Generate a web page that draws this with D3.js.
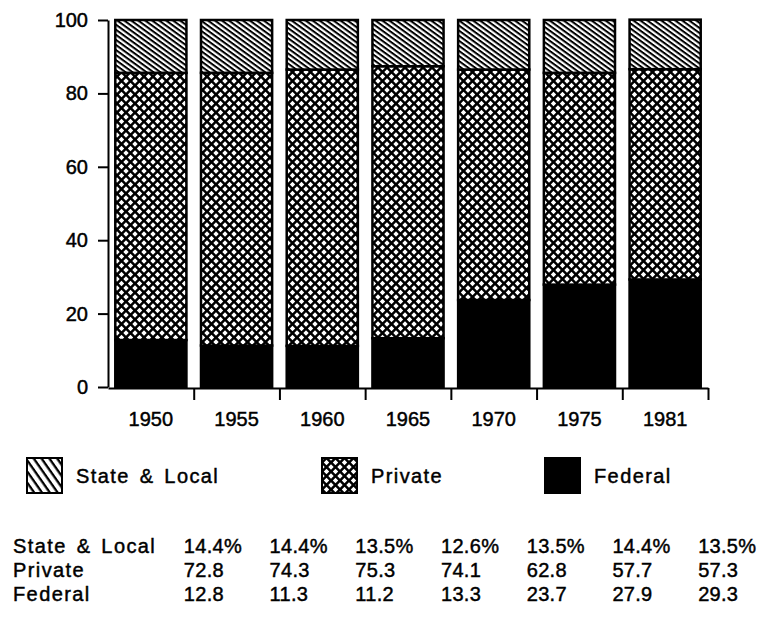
<!DOCTYPE html>
<html>
<head>
<meta charset="utf-8">
<script src="https://cdn.jsdelivr.net/npm/d3@7"></script>
<style>
  body { margin: 0; background: #fff; }
  svg { display: block; font-family: "Liberation Sans", Arial, Helvetica, sans-serif; }
  svg text { stroke: #000; stroke-width: 0.45px; fill: #000; }
</style>
</head>
<body>
<div id="chart-container"></div>
<script>
// values (percent of total)
const years = ["1950", "1955", "1960", "1965", "1970", "1975", "1981"];
const stateLocal = [14.4, 14.4, 13.5, 12.6, 13.5, 14.4, 13.5];
const privateShare = [72.8, 74.3, 75.3, 74.1, 62.8, 57.7, 57.3];
const federal = [12.8, 11.3, 11.2, 13.3, 23.7, 27.9, 29.3];
const yTicks = [0, 20, 40, 60, 80, 100];
const seriesNames = ["State & Local", "Private", "Federal"];

const W = 762, H = 620;

const svg = d3.select("#chart-container")
    .append("svg")
    .attr("width", W)
    .attr("height", H);

// patterns
const defs = svg.append("defs");

function hatch(id, angle, spacing, thick) {
    const p = defs.append("pattern")
        .attr("id", id)
        .attr("patternUnits", "userSpaceOnUse")
        .attr("width", 10)
        .attr("height", spacing)
        .attr("patternTransform", `rotate(${angle})`);
    p.append("rect").attr("width", 10).attr("height", spacing).attr("fill", "#fff");
    p.append("rect").attr("width", 10).attr("height", thick).attr("fill", "#000");
}
hatch("hatch", 36, 4.1, 2);
hatch("hatchLegend", 55, 6.4, 2.3);

const cross = defs.append("pattern")
    .attr("id", "cross")
    .attr("patternUnits", "userSpaceOnUse")
    .attr("width", 9)
    .attr("height", 9);
cross.append("rect").attr("width", 9).attr("height", 9).attr("fill", "#000");
const h = 2.7;
const diamond = (cx, cy) => `M${cx},${cy - h}L${cx + h},${cy}L${cx},${cy + h}L${cx - h},${cy}Z`;
cross.append("path")
    .attr("fill", "#fff")
    .attr("d", [[4.5, 4.5], [0, 0], [9, 0], [0, 9], [9, 9]].map(d => diamond(d[0], d[1])).join(""));

const fills = { state: "url(#hatch)", private: "url(#cross)", federal: "#000" };
const legendFills = ["url(#hatchLegend)", "url(#cross)", "#000"];

// scales
const x = d3.scaleBand()
    .domain(years)
    .range([108, 708])
    .paddingInner(0.17)
    .paddingOuter(0.085);

const y = d3.scaleLinear()
    .domain([0, 100])
    .range([387, 20]);

const rows = years.map((yr, i) => ({
    year: yr, federal: federal[i], private: privateShare[i], state: stateLocal[i]
}));
const stacked = d3.stack().keys(["federal", "private", "state"])(rows);

// bars
svg.append("g")
    .selectAll("g")
    .data(stacked)
    .join("g")
    .attr("fill", d => fills[d.key])
    .selectAll("rect")
    .data(d => d)
    .join("rect")
    .attr("x", d => x(d.data.year))
    .attr("y", d => y(d[1]))
    .attr("width", x.bandwidth())
    .attr("height", d => y(d[0]) - y(d[1]))
    .attr("stroke", "#000")
    .attr("stroke-width", 2.5);

// y axis
const yAxis = svg.append("g")
    .attr("transform", "translate(108,0)")
    .call(d3.axisLeft(y).tickValues(yTicks).tickSize(10).tickPadding(10).tickSizeOuter(0));

// x axis: boundary ticks between bars
const xb = d3.scaleLinear().domain([0, years.length]).range([108, 708]);
const xAxis = svg.append("g")
    .attr("transform", "translate(0,388)")
    .call(d3.axisBottom(xb)
        .tickValues(d3.range(1, years.length + 1))
        .tickSize(12)
        .tickSizeOuter(0)
        .tickFormat(""));

// year labels
const xLabels = svg.append("g")
    .attr("transform", "translate(0,388)")
    .call(d3.axisBottom(x).tickSize(0).tickPadding(24));
xLabels.select(".domain").remove();

[yAxis, xAxis].forEach(g => {
    g.selectAll("path, line").attr("stroke", "#000").attr("stroke-width", 2);
});
[yAxis, xLabels].forEach(g => {
    g.selectAll("text")
        .attr("fill", "#000")
        .style("font-size", "20px")
        .style("font-family", "'Liberation Sans', Arial, Helvetica, sans-serif");
});

// legend
const legendX = [27, 322, 545];
const legend = svg.append("g")
    .selectAll("g")
    .data(seriesNames)
    .join("g")
    .attr("transform", (d, i) => `translate(${legendX[i]},458)`);

legend.append("rect")
    .attr("width", 35)
    .attr("height", 35)
    .attr("fill", (d, i) => legendFills[i])
    .attr("stroke", "#000")
    .attr("stroke-width", 2);

legend.append("text")
    .attr("x", 49)
    .attr("y", 25)
    .style("font-size", "20px")
    .style("letter-spacing", "1.4px")
    .style("word-spacing", "3px")
    .text(d => d);

// data table below
const tableRows = [
    { name: "State & Local", values: stateLocal.map(v => d3.format(".1f")(v) + "%") },
    { name: "Private", values: privateShare.map(d3.format(".1f")) },
    { name: "Federal", values: federal.map(d3.format(".1f")) }
];
const rowY = [553, 577, 601];

const table = svg.append("g")
    .selectAll("g")
    .data(tableRows)
    .join("g")
    .attr("transform", (d, i) => `translate(0,${rowY[i]})`);

table.append("text")
    .attr("x", 13)
    .style("font-size", "20px")
    .style("letter-spacing", "1.4px")
    .style("word-spacing", "3px")
    .text(d => d.name);

table.selectAll("text.val")
    .data(d => d.values.map((v, i) => ({ v, year: years[i] })))
    .join("text")
    .attr("class", "val")
    .attr("x", d => x(d.year) + x.bandwidth() / 2 + 33)
    .style("font-size", "20px")
    .style("letter-spacing", "0.3px")
    .text(d => d.v);
</script>
</body>
</html>
